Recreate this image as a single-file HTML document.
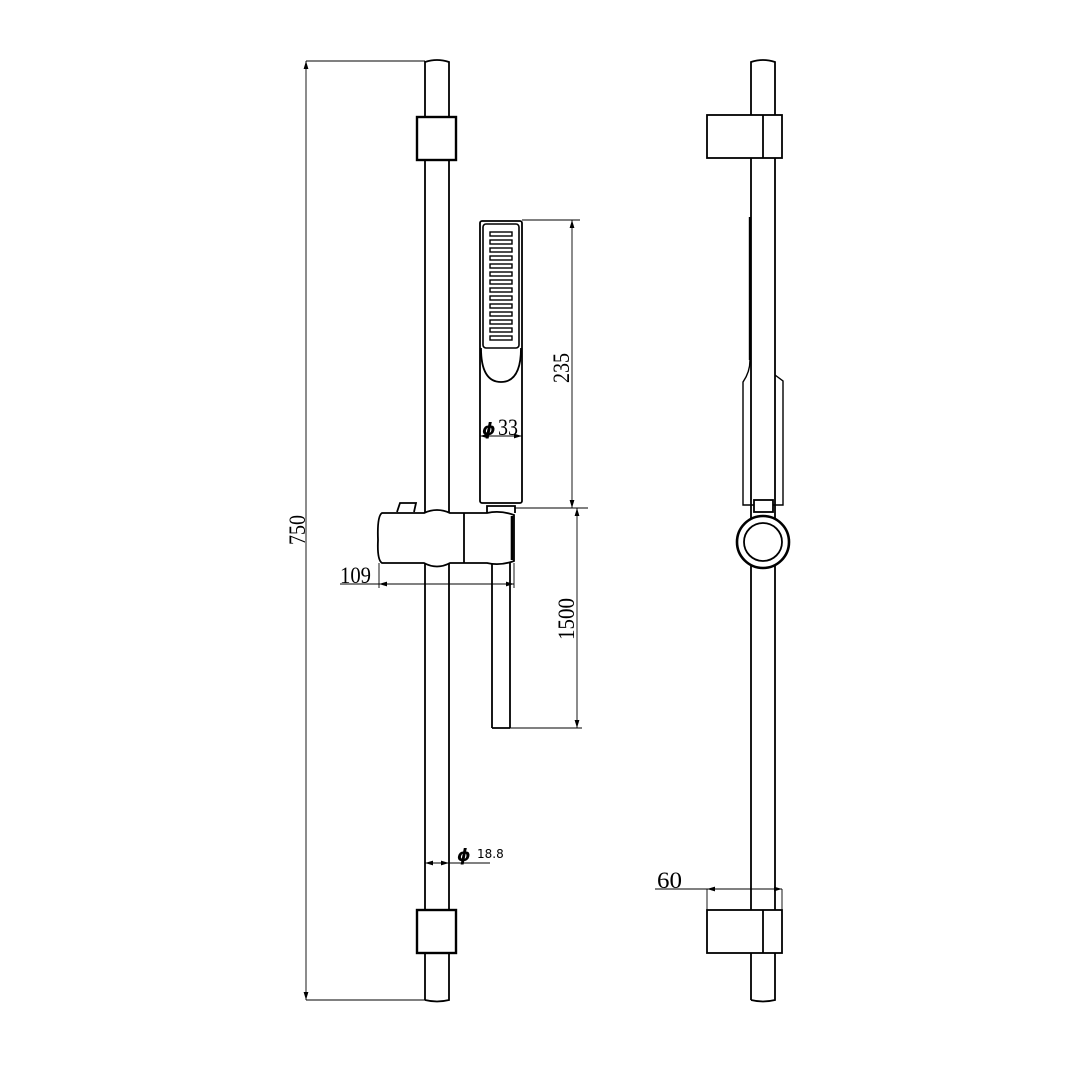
<!DOCTYPE html>
<html><head><meta charset="utf-8"><style>html,body{margin:0;padding:0;background:#fff}svg{display:block}</style></head>
<body>
<svg width="1080" height="1080" viewBox="0 0 1080 1080" xmlns="http://www.w3.org/2000/svg">
<defs>
<marker id="a" viewBox="0 0 10 10" refX="10" refY="5" markerWidth="10" markerHeight="8" orient="auto-start-reverse" markerUnits="userSpaceOnUse"><path d="M0,2 L10,5 L0,8 z" fill="#000"/></marker>
</defs>
<g fill="none" stroke="#000" stroke-width="1.8">
<path d="M425,1000 V62 Q437,58 449,62 V1000 Q437,1003 425,1000"/>
<rect x="417" y="117" width="39" height="43" fill="#fff" stroke-width="2.4"/>
<rect x="417" y="910" width="39" height="43" fill="#fff" stroke-width="2.4"/>
<path d="M492,560 V728 M510,560 V728 M492,728 H510"/>
<path d="M382,513 H424 Q437,507 450,513 H487 Q500,510 514,515 V561 Q500,566 487,563 H450 Q437,570 424,563 H382 Q377,560 378,540 Q377,516 382,513 Z" fill="#fff"/>
<path d="M464,513 V563"/>
<path d="M512,516 V560" stroke-width="2.6"/>
<path d="M397,512 L400,503 H416 L414,512" fill="#fff"/>
<path d="M487,513 V506 H515 V513"/>
<rect x="480" y="221" width="42" height="282" rx="2" fill="#fff"/>
<rect x="483" y="224" width="36" height="124" rx="3" stroke-width="1.6"/>
<path d="M481,348 Q481,382 501,382 Q521,382 521,348"/>
</g>
<g fill="none" stroke="#000" stroke-width="1.4">
<rect x="490" y="232" width="22" height="4"/><rect x="490" y="240" width="22" height="4"/><rect x="490" y="248" width="22" height="4"/><rect x="490" y="256" width="22" height="4"/><rect x="490" y="264" width="22" height="4"/><rect x="490" y="272" width="22" height="4"/><rect x="490" y="280" width="22" height="4"/><rect x="490" y="288" width="22" height="4"/><rect x="490" y="296" width="22" height="4"/><rect x="490" y="304" width="22" height="4"/><rect x="490" y="312" width="22" height="4"/><rect x="490" y="320" width="22" height="4"/><rect x="490" y="328" width="22" height="4"/><rect x="490" y="336" width="22" height="4"/>
</g>
<g fill="none" stroke="#000" stroke-width="1.8">
<path d="M751,1000 V62 Q763,58 775,62 V1000 Q763,1003 751,1000"/>
<rect x="707" y="115" width="75" height="43" fill="#fff"/>
<path d="M763,115 V158"/>
<rect x="707" y="910" width="75" height="43" fill="#fff"/>
<path d="M763,910 V953"/>
<path d="M750,217 V360 Q750,372 743,382 V505 H783 V381 L775,375" stroke-width="1.4"/>
<path d="M750,217 V360" stroke-width="2.4"/>
<rect x="754" y="500" width="19" height="12" fill="#fff"/>
<circle cx="763" cy="542" r="26" fill="#fff" stroke-width="2.6"/>
<circle cx="763" cy="542" r="19"/>
</g>
<g fill="none" stroke="#000" stroke-width="0.9">
<path d="M306,61 H425 M306,1000 H425"/>
<path d="M306,61 V1000" marker-start="url(#a)" marker-end="url(#a)"/>
<path d="M522,220 H580 M515,508 H588 M510,728 H582"/>
<path d="M572,220 V508" marker-start="url(#a)" marker-end="url(#a)"/>
<path d="M577,508 V728" marker-start="url(#a)" marker-end="url(#a)"/>
<path d="M379,563 V588 M514,563 V588"/>
<path d="M340,584 H379"/>
<path d="M379,584 H514" marker-start="url(#a)" marker-end="url(#a)"/>
<path d="M480,436 H522" marker-start="url(#a)" marker-end="url(#a)"/>
<path d="M425,863 H449" marker-start="url(#a)" marker-end="url(#a)"/>
<path d="M449,863 H490"/>
<path d="M655,889 H782 M707,889 V910 M782,889 V910"/>
<path d="M707,889 H782" marker-start="url(#a)" marker-end="url(#a)"/>
</g>
<g font-family="Liberation Serif, serif" font-size="23" fill="#000">
<text x="0" y="0" transform="translate(305,530) rotate(-90)" text-anchor="middle" textLength="30" lengthAdjust="spacingAndGlyphs">750</text>
<text x="0" y="0" transform="translate(569,368) rotate(-90)" text-anchor="middle" textLength="30" lengthAdjust="spacingAndGlyphs">235</text>
<text x="0" y="0" transform="translate(574,619) rotate(-90)" text-anchor="middle" textLength="42" lengthAdjust="spacingAndGlyphs">1500</text>
<text x="340" y="583" textLength="31" lengthAdjust="spacingAndGlyphs">109</text>
<text x="498" y="435" textLength="20" lengthAdjust="spacingAndGlyphs">33</text>
<text x="657" y="888" textLength="25" lengthAdjust="spacingAndGlyphs">60</text>
</g>
<text x="482" y="435" font-family="DejaVu Sans, sans-serif" font-size="17" font-weight="bold" font-style="italic">ϕ</text>
<text x="457" y="861" font-family="DejaVu Sans, sans-serif" font-size="17" font-weight="bold" font-style="italic">ϕ</text>
<text x="477" y="858" font-family="DejaVu Sans, sans-serif" font-size="12">18.8</text>
</svg>
</body></html>
